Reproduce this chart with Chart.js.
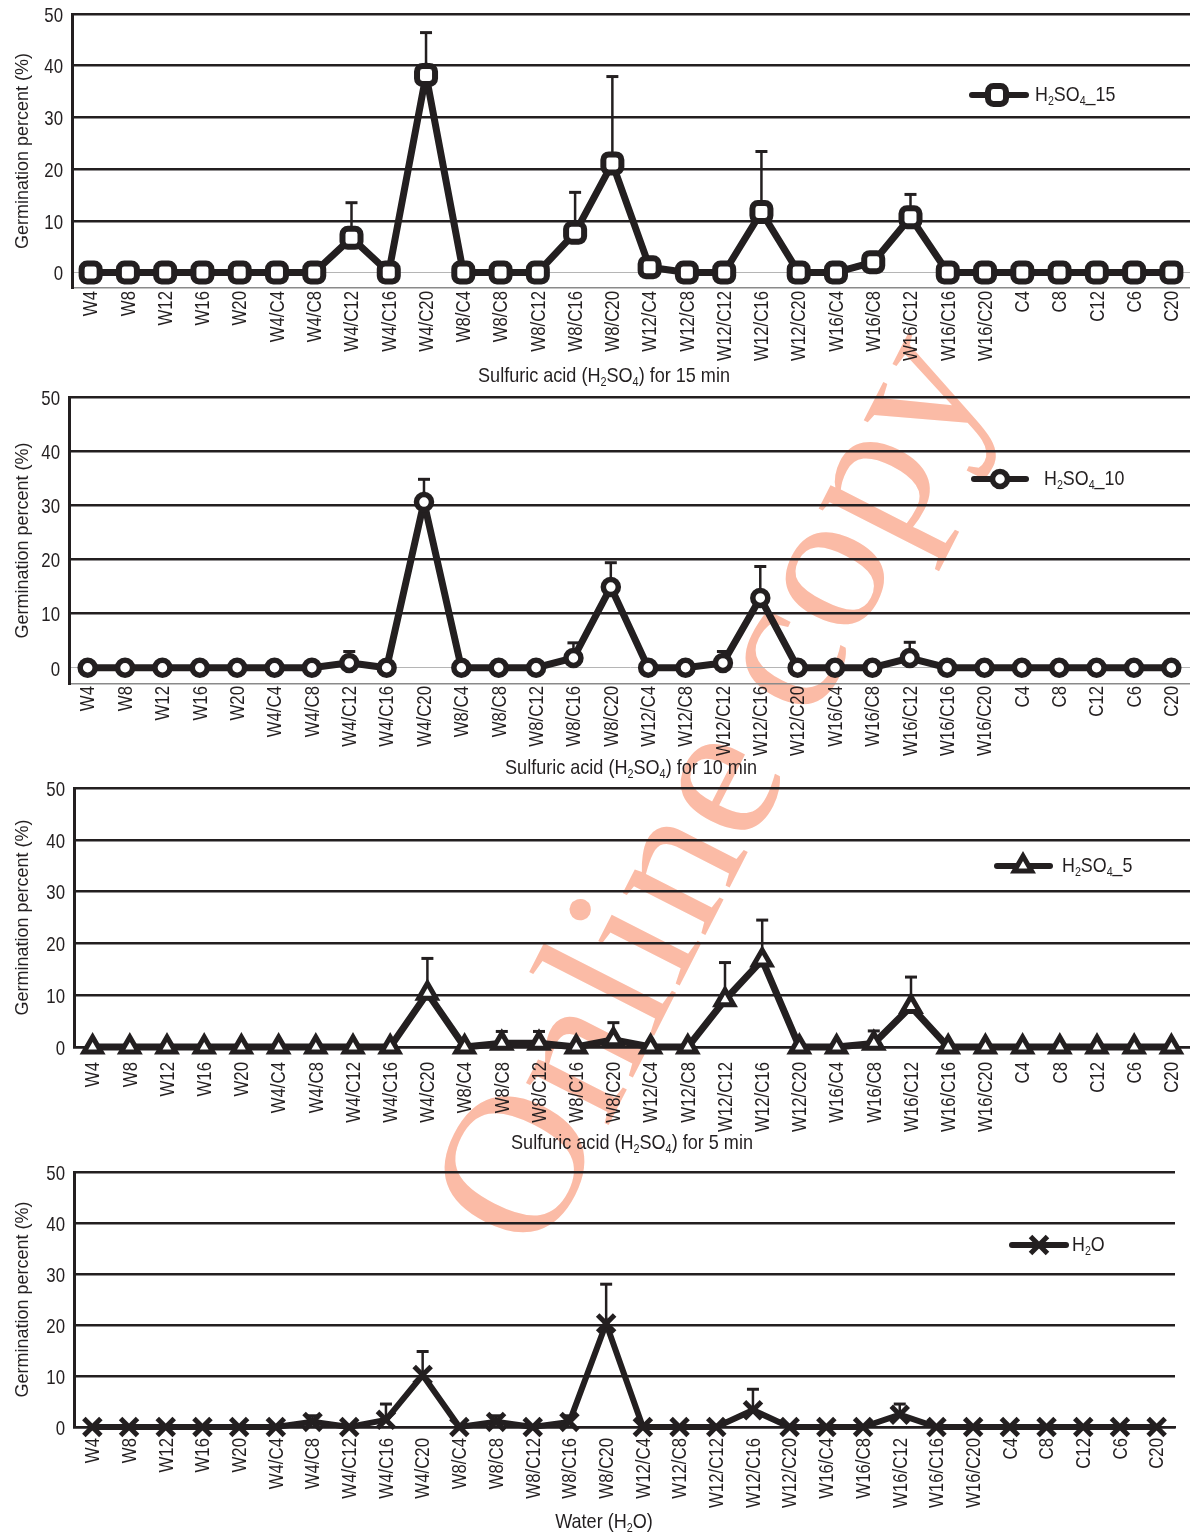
<!DOCTYPE html>
<html><head><meta charset="utf-8">
<script src="https://cdn.jsdelivr.net/npm/chart.js@4.4.1/dist/chart.umd.min.js"></script>
<style>
html,body{margin:0;padding:0;background:#fff;}
#wrap{position:relative;width:1190px;height:1535px;overflow:hidden;background:#fff;}
.panel{position:absolute;left:0;}
canvas{display:block;}
#wm{position:absolute;left:705px;top:786px;transform:translate(-50%,-50%) rotate(-63deg);font-family:"Liberation Serif","DejaVu Serif",serif;font-size:202px;color:#fbbba6;white-space:nowrap;line-height:1;}
</style></head>
<body>
<div id="wrap">
  <div id="wm">Online copy</div>
  <div class="panel" style="top:0px"><canvas id="c1" width="1190" height="390"></canvas></div>
  <div class="panel" style="top:390px"><canvas id="c2" width="1190" height="390"></canvas></div>
  <div class="panel" style="top:780px"><canvas id="c3" width="1190" height="380"></canvas></div>
  <div class="panel" style="top:1160px"><canvas id="c4" width="1190" height="375"></canvas></div>
</div>
<script>
// ---------- data ----------
const categories = ['W4','W8','W12','W16','W20','W4/C4','W4/C8','W4/C12','W4/C16','W4/C20',
  'W8/C4','W8/C8','W8/C12','W8/C16','W8/C20','W12/C4','W12/C8','W12/C12','W12/C16','W12/C20',
  'W16/C4','W16/C8','W16/C12','W16/C16','W16/C20','C4','C8','C12','C6','C20'];

const h2so4_15 = [0,0,0,0,0,0,0,6.7,0,38.2, 0,0,0,7.7,21.1,1.0,0,0,11.7,0, 0,2.0,10.7,0,0,0,0,0,0,0];
const sd_15    = [0,0,0,0,0,0,0,6.8,0,8.2,  0,0,0,7.8,16.8,0,0,0,11.7,0,   0,0,4.4,0,0,0,0,0,0,0];

const h2so4_10 = [0,0,0,0,0,0,0,0.9,0,30.6, 0,0,0,1.8,14.9,0,0,0.9,12.9,0, 0,0,1.8,0,0,0,0,0,0,0];
const sd_10    = [0,0,0,0,0,0,0,2.1,0,4.2,  0,0,0,2.8,4.5,0,0,2.1,5.8,0,   0,0,2.9,0,0,0,0,0,0,0];

const h2so4_5  = [0,0,0,0,0,0,0,0,0,10.4, 0,0.7,0.7,0,1.4,0,0,9.1,16.8,0, 0,0.7,7.8,0,0,0,0,0,0,0];
const sd_5     = [0,0,0,0,0,0,0,0,0,6.7,  0,2.3,2.3,0,3.3,0,0,7.2,7.7,0,   0,2.4,5.7,0,0,0,0,0,0,0];

const h2o      = [0,0,0,0,0,0,1.0,0,1.4,10.2, 0,1.0,0,1.0,20.3,0,0,0,3.3,0, 0,0,2.4,0,0,0,0,0,0,0];
const sd_h2o   = [0,0,0,0,0,0,1.2,0,3.1,4.6,  0,1.2,0,1.2,7.7,0,0,0,4.1,0,  0,0,2.1,0,0,0,0,0,0,0];

const yTickValues = [0,10,20,30,40,50];
const yAxisTitle = 'Germination percent (%)';

// ---------- styling ----------
const INK = '#231f20';
const SANS = '"Liberation Sans",Arial,sans-serif';

// condensed rich text: parts = [[text, isSub], ...]
function drawRich(ctx, parts, x, y, size, sx, align) {
  ctx.save();
  ctx.textBaseline = 'middle';
  ctx.textAlign = 'left';
  ctx.fillStyle = INK;
  const fs = s => s + 'px ' + SANS;
  let w = 0;
  parts.forEach(p => { ctx.font = fs(p[1] ? size * 0.6 : size); w += ctx.measureText(p[0]).width; });
  ctx.translate(align === 'center' ? x - w * sx / 2 : x, y);
  ctx.scale(sx, 1);
  let cx = 0;
  parts.forEach(p => {
    const s = p[1] ? size * 0.6 : size;
    ctx.font = fs(s);
    ctx.fillText(p[0], cx, p[1] ? size * 0.3 : 0);
    cx += ctx.measureText(p[0]).width;
  });
  ctx.restore();
}

const extrasPlugin = {
  id: 'extras',
  beforeDatasetsDraw(chart, args, o) {
    const ctx = chart.ctx, ys = chart.scales.y, meta = chart.getDatasetMeta(0);
    const vals = chart.data.datasets[0].data;
    ctx.save();
    ctx.strokeStyle = INK;
    o.errors.forEach((e, i) => {
      if (!e) return;
      const p = meta.data[i];
      const yt = ys.getPixelForValue(vals[i] + e);
      ctx.lineWidth = 2.5;
      ctx.beginPath(); ctx.moveTo(p.x, p.y); ctx.lineTo(p.x, yt); ctx.stroke();
      ctx.lineWidth = 3;
      ctx.beginPath(); ctx.moveTo(p.x - 6, yt); ctx.lineTo(p.x + 6, yt); ctx.stroke();
    });
    ctx.restore();
  },
  afterDraw(chart, args, o) {
    const ctx = chart.ctx, xs = chart.scales.x, ys = chart.scales.y;
    // category tick labels (condensed, rotated) at the category scale's tick positions
    ctx.save();
    ctx.fillStyle = INK;
    ctx.font = '21px ' + SANS;
    ctx.textAlign = 'right';
    ctx.textBaseline = 'middle';
    xs.ticks.forEach((t, i) => {
      const px = xs.getPixelForTick(i);
      ctx.save();
      ctx.translate(px + 1, xs.top + o.tickPad);
      ctx.rotate(-Math.PI / 2);
      ctx.scale(0.8, 1);
      ctx.fillText(xs.getLabelForValue(t.value), 0, 0);
      ctx.restore();
    });
    // value tick labels
    ys.ticks.forEach(t => {
      const py = ys.getPixelForValue(t.value);
      ctx.save();
      ctx.translate(ys.right - 9, py + 2);
      ctx.scale(0.8, 1);
      ctx.fillText(String(t.value), 0, 0);
      ctx.restore();
    });
    ctx.restore();
    // axis title
    drawRich(ctx, o.title.parts, o.title.x, o.title.y, 21, 0.86, 'center');
    // legend
    const L = o.legend, ds = chart.data.datasets[0];
    ctx.save();
    ctx.strokeStyle = INK; ctx.lineWidth = 6; ctx.lineCap = 'round';
    ctx.beginPath(); ctx.moveTo(L.x0, L.y); ctx.lineTo(L.x1, L.y); ctx.stroke();
    ctx.lineCap = 'butt';
    ctx.fillStyle = '#fff'; ctx.strokeStyle = INK; ctx.lineWidth = ds.pointBorderWidth;
    Chart.helpers.drawPoint(ctx, {pointStyle: ds.pointStyle, radius: ds.pointRadius, borderWidth: ds.pointBorderWidth, rotation: 0}, L.mx, L.y);
    ctx.restore();
    drawRich(ctx, L.parts, L.tx, L.y, 21, 0.85, 'left');
  }
};

const acidTitle = t => [['Sulfuric acid (H'], ['2', 1], ['SO'], ['4', 1], [') for ' + t + ' min']];
const acidLegend = t => [['H'], ['2', 1], ['SO'], ['4', 1], ['_' + t]];

const panels = [
  {id:'c1', values:h2so4_15, errors:sd_15, label:'H2SO4_15', style:'rectRounded', radius:10.5, pbw:6, lw:7,
   left:72, right:0, top:14, min:-3, xh:102, tickPad:3, zeroAxis:false,
   title:{x:604, y:376, parts:acidTitle(15)},
   legend:{x0:972, x1:1026, mx:997, y:95, tx:1035, parts:acidLegend(15)}},
  {id:'c2', values:h2so4_10, errors:sd_10, label:'H2SO4_10', style:'circle', radius:7.5, pbw:5.5, lw:7,
   left:69, right:0, top:7, min:-3, xh:96, tickPad:2, zeroAxis:false,
   title:{x:631, y:378, parts:acidTitle(10)},
   legend:{x0:974, x1:1026, mx:1000, y:89, tx:1044, parts:acidLegend(10)}},
  {id:'c3', values:h2so4_5, errors:sd_5, label:'H2SO4_5', style:'triangle', radius:10, pbw:5, lw:7,
   left:74, right:0, top:8, min:0, xh:113, tickPad:15, zeroAxis:true,
   title:{x:632, y:363, parts:acidTitle(5)},
   legend:{x0:997, x1:1050, mx:1023, y:86, tx:1062, parts:acidLegend(5)}},
  {id:'c4', values:h2o, errors:sd_h2o, label:'H2O', style:'crossRot', radius:12, pbw:5, lw:6,
   left:74, right:15, top:12, min:0, xh:108, tickPad:11, zeroAxis:true,
   title:{x:604, y:362, parts:[['Water (H'], ['2', 1], ['O)']]},
   legend:{x0:1012, x1:1066, mx:1039, y:85, tx:1072, parts:[['H'], ['2', 1], ['O']]}}
];

panels.forEach(P => {
  new Chart(document.getElementById(P.id), {
    type: 'line',
    data: {
      labels: categories,
      datasets: [{
        label: P.label,
        data: P.values,
        borderColor: INK,
        borderWidth: P.lw,
        tension: 0,
        pointStyle: P.style,
        pointRadius: P.radius,
        pointBorderWidth: P.pbw,
        pointBackgroundColor: '#fff',
        pointBorderColor: INK,
        clip: false
      }]
    },
    options: {
      responsive: false,
      animation: false,
      devicePixelRatio: 1,
      layout: {autoPadding: false, padding: {top: P.top, right: P.right, left: 0, bottom: 0}},
      plugins: {
        legend: {display: false},
        tooltip: {enabled: false},
        extras: {errors: P.errors, title: P.title, legend: P.legend, tickPad: P.tickPad}
      },
      scales: {
        x: {
          type: 'category',
          offset: true,
          grid: {display: false, drawTicks: false},
          border: {display: true, color: P.zeroAxis ? INK : '#8a8a8a', width: P.zeroAxis ? 2.5 : 1.5},
          ticks: {display: false, autoSkip: false},
          afterFit(s) { s.height = P.xh; s.paddingLeft = 0; s.paddingRight = 0; }
        },
        y: {
          min: P.min, max: 50,
          afterBuildTicks(s) { s.ticks = yTickValues.map(v => ({value: v})); },
          grid: {
            drawTicks: false,
            color: c => (c.tick && c.tick.value === 0 && !P.zeroAxis) ? '#b5b5b5' : INK,
            lineWidth: c => (c.tick && c.tick.value === 0 && !P.zeroAxis) ? 1 : 2.5
          },
          border: {display: true, color: INK, width: 3},
          ticks: {display: false},
          title: {display: true, text: yAxisTitle, color: INK, font: {family: SANS, size: 18},
                  padding: {top: 12, bottom: 0}},
          afterFit(s) { s.width = P.left; s.paddingTop = 0; s.paddingBottom = 0; }
        }
      }
    },
    plugins: [extrasPlugin]
  });
});
</script>
</body></html>
